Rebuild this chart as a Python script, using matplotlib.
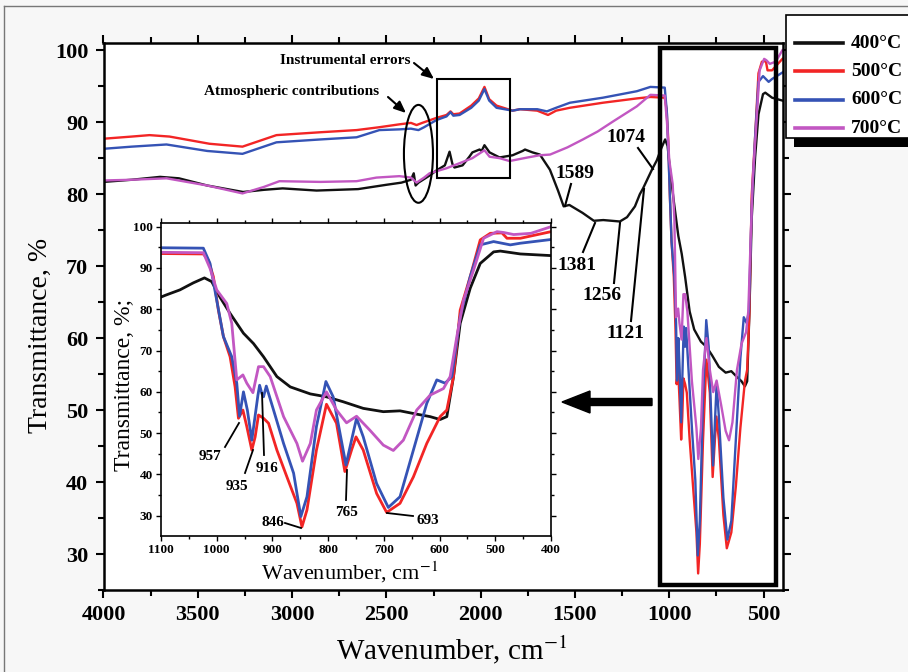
import matplotlib
matplotlib.use('Agg')
import matplotlib.pyplot as plt
from matplotlib.patches import Rectangle, Ellipse, FancyArrow
from matplotlib.lines import Line2D
from matplotlib.ticker import MultipleLocator

plt.rcParams['font.family'] = ['Liberation Serif', 'DejaVu Serif']
plt.rcParams['mathtext.fontset'] = 'stix'

# ---------------- data (wavenumber, cm-1 ; transmittance, %) ----------------
wn_400 = [4000, 3850, 3700, 3600, 3450, 3260, 3150, 3050, 2870, 2650, 2500, 2420, 2370, 2355,
          2345, 2330, 2270, 2234, 2190, 2165, 2150, 2139, 2096, 2060, 2044, 2006, 1995, 1980,
          1953, 1900, 1831, 1778, 1765, 1725, 1686, 1633, 1590, 1560, 1530, 1460, 1400, 1350,
          1262, 1224, 1182, 1156, 1139, 1092, 1066, 1042, 1022, 1009, 994, 976, 952, 934, 916,
          892, 868, 832, 803, 773, 737, 701, 671, 641, 617, 599, 587, 575, 563, 545, 527, 503,
          491, 455, 400]
t_400 = [81.7, 82.0, 82.4, 82.2, 81.2, 80.3, 80.6, 80.8, 80.5, 80.7, 81.3, 81.6, 82.0, 82.9,
         81.2, 81.6, 82.6, 83.3, 84.0, 85.9, 84.2, 83.7, 84.0, 85.2, 85.8, 86.2, 86.0, 86.8,
         85.8, 85.1, 85.4, 86.0, 86.2, 85.8, 85.5, 83.4, 80.5, 78.3, 78.5, 77.4, 76.3, 76.4,
         76.2, 76.8, 78.3, 80.0, 80.8, 83.4, 84.7, 86.4, 87.6, 86.7, 82.9, 79.0, 74.2, 71.7, 68.5,
         63.7, 61.2, 59.5, 58.8, 57.6, 56.0, 55.2, 55.4, 54.6, 54.0, 53.3, 54.0, 63.7, 76.6, 85.1,
         91.1, 93.9, 94.1, 93.4, 93.0]

wn_500 = [4000, 3850, 3756, 3650, 3438, 3263, 3083, 2850, 2658, 2537, 2431, 2370, 2340, 2310,
          2234, 2181, 2160, 2145, 2112, 2050, 2010, 1980, 1955, 1916, 1831, 1792, 1700, 1643,
          1600, 1527, 1352, 1172, 1100, 1024, 1015, 1006, 997, 988, 976, 967, 961, 953, 946, 937,
          931, 925, 916, 907, 892, 874, 856, 847, 838, 821, 803, 785, 770, 758, 750, 737, 713,
          695, 671, 647, 623, 599, 587, 575, 563, 545, 527, 509, 488, 479, 455, 400]
t_500 = [87.7, 88.0, 88.2, 88.0, 87.0, 86.6, 88.2, 88.6, 88.9, 89.3, 89.7, 89.9, 89.6, 89.9,
         90.6, 91.0, 91.5, 91.1, 91.2, 92.3, 93.3, 94.9, 93.2, 92.3, 91.6, 91.8, 91.6, 91.0,
         91.6, 92.0, 92.7, 93.3, 93.5, 93.4, 91.9, 87.9, 79.8, 73.4, 68.5, 61.2, 53.6, 55.6, 51.6,
         45.9, 49.1, 54.4, 53.6, 52.4, 45.9, 39.4, 33.0, 27.3, 31.4, 45.9, 57.0, 52.4, 40.7, 45.9,
         49.1, 45.9, 35.4, 30.8, 33.0, 39.4, 47.5, 54.0, 55.6, 63.7, 79.8, 87.9, 96.8, 98.4, 98.5,
         97.2, 97.2, 98.8]

wn_600 = [4000, 3850, 3666, 3450, 3263, 3083, 2850, 2658, 2537, 2431, 2370, 2330, 2300, 2234,
          2181, 2160, 2145, 2112, 2050, 2010, 1980, 1955, 1916, 1831, 1792, 1700, 1649, 1600,
          1527, 1352, 1172, 1100, 1024, 1012, 1000, 988, 973, 964, 959, 952, 945, 937, 926, 923,
          919, 916, 911, 898, 880, 862, 849, 838, 821, 804, 791, 768, 758, 749, 737, 713, 692,
          671, 647, 623, 605, 590, 578, 563, 545, 527, 503, 473, 455, 400]
t_600 = [86.3, 86.6, 86.9, 86.0, 85.6, 87.2, 87.6, 87.9, 88.9, 89.0, 89.1, 88.9, 89.3, 90.3,
         90.8, 91.4, 90.9, 91.0, 92.0, 93.0, 94.6, 93.0, 92.0, 91.6, 91.8, 91.8, 91.5, 92.0,
         92.7, 93.4, 94.3, 94.9, 94.8, 91.1, 82.2, 73.4, 68.5, 62.1, 54.1, 60.0, 55.6, 48.3, 59.2,
         61.6, 59.6, 58.8, 61.4, 55.6, 47.5, 40.3, 29.8, 34.6, 51.6, 62.5, 58.8, 42.3, 48.3, 53.6,
         49.1, 37.8, 32.0, 34.6, 45.9, 57.2, 62.9, 62.1, 63.7, 78.2, 87.9, 95.6, 96.4, 95.6, 96.0,
         96.9]

wn_700 = [4000, 3850, 3666, 3450, 3263, 3150, 3067, 2850, 2658, 2553, 2431, 2370, 2340, 2300,
          2271, 2181, 2112, 2044, 1980, 1953, 1900, 1847, 1750, 1688, 1632, 1540, 1458, 1380,
          1298, 1172, 1100, 1024, 1012, 1000, 982, 973, 964, 953, 946, 935, 925, 916, 904, 880,
          856, 846, 832, 821, 803, 785, 767, 749, 725, 701, 683, 665, 641, 617, 593, 581, 569,
          557, 539, 521, 497, 485, 467, 436, 400]
t_700 = [81.9, 82.0, 82.2, 81.2, 80.1, 81.0, 81.8, 81.7, 81.8, 82.3, 82.5, 82.3, 81.6, 82.3,
         82.9, 83.6, 84.3, 85.0, 86.1, 85.2, 85.0, 84.6, 85.1, 85.4, 85.5, 86.5, 87.6, 88.7,
         90.1, 92.2, 93.8, 93.7, 89.9, 84.7, 81.4, 76.6, 62.9, 64.1, 62.1, 59.8, 66.1, 66.1, 63.7,
         54.0, 47.5, 43.2, 47.5, 55.6, 60.0, 55.6, 52.5, 54.1, 50.7, 47.1, 45.8, 48.3, 55.6, 59.2,
         60.8, 63.7, 73.4, 82.2, 89.5, 97.2, 98.8, 98.6, 98.1, 98.4, 100.0]

series_labels = ['400°C', '500°C', '600°C', '700°C']
series_colors = ['#111111', '#f22525', '#3553b5', '#c257c2']
series = [(wn_400, t_400), (wn_500, t_500), (wn_600, t_600), (wn_700, t_700)]

main_xticks = [4000, 3500, 3000, 2500, 2000, 1500, 1000, 500]
main_yticks = [30, 40, 50, 60, 70, 80, 90, 100]
inset_xticks = [1100, 1000, 900, 800, 700, 600, 500, 400]
inset_yticks = [30, 40, 50, 60, 70, 80, 90, 100]

main_peaks = ['1589', '1074', '1381', '1256', '1121']
inset_peaks = ['957', '935', '916', '846', '765', '693']

# ---------------- figure ----------------
W, H = 908, 672
fig = plt.figure(figsize=(W / 100, H / 100), dpi=100, facecolor='#f7f7f7')


def fx(x):
    return x / W


def fy(y):
    return 1 - y / H


# outer thin frame
fig.add_artist(Line2D([fx(4), fx(4)], [fy(6), fy(672)], color='#777777', lw=1))
fig.add_artist(Line2D([fx(4), fx(908)], [fy(6), fy(6)], color='#777777', lw=1))

# ---------------- main axes ----------------
ax = fig.add_axes([fx(103.5), fy(590), fx(783) - fx(103.5), fy(43) - fy(590)])
ax.set_facecolor('white')
for (w, t), c in zip(series, series_colors):
    ax.plot(w, t, color=c, lw=1.7)
ax.set_xlim(4000, 397)
ax.set_ylim(25, 101)
ax.set_xticks(main_xticks)
ax.set_xticklabels([str(v) for v in main_xticks], fontweight='bold', fontsize=16)
ax.set_yticks(main_yticks)
ax.set_yticklabels([str(v) for v in main_yticks], fontweight='bold', fontsize=16)
ax.xaxis.set_minor_locator(MultipleLocator(250))
ax.yaxis.set_minor_locator(MultipleLocator(5))
ax.tick_params(which='both', direction='out', top=True, right=True, width=1.5)
ax.tick_params(which='major', length=6, pad=5)
ax.tick_params(which='minor', length=4)
for s in ax.spines.values():
    s.set_linewidth(1.8)

# boxes / ellipse annotations in the main plot
ax.add_patch(Rectangle((1049, 25.7), 434 - 1049, 100.24 - 25.7, fill=False, lw=3.2,
                       edgecolor='black', zorder=5))
ax.add_patch(Rectangle((2232, 82.3), 1845 - 2232, 96.06 - 82.3, fill=False, lw=1.5,
                       edgecolor='black', zorder=5))
ax.add_patch(Ellipse((2330, 85.6), 154, 13.6, fill=False, lw=1.5, edgecolor='black', zorder=5))

fig.text(fx(40), fy(335), 'Transmittance, %', rotation=90, ha='center', va='center', fontsize=20)
fig.text(fx(452), fy(650), r'Wavenumber, cm$^{-1}$', ha='center', va='center', fontsize=21)

# text annotations with arrows
fig.text(fx(345), fy(60), 'Instrumental errors', ha='center', va='center', fontsize=11,
         fontweight='bold')
fig.text(fx(292), fy(92), 'Atmospheric contributions', ha='center', va='center', fontsize=11,
         fontweight='bold')
arrow_kw = dict(arrowstyle='-|>,head_length=0.7,head_width=0.3', lw=1.5, color='black',
                shrinkA=0, shrinkB=0)
ax.annotate('', xy=(fx(434), fy(79)), xytext=(fx(414), fy(63)), xycoords='figure fraction',
            arrowprops=arrow_kw)
ax.annotate('', xy=(fx(406), fy(113)), xytext=(fx(388), fy(97)), xycoords='figure fraction',
            arrowprops=arrow_kw)

# peak labels (main)
main_label_pos = [(575, 173), (626, 138), (577, 265), (602, 295), (625, 334)]
main_label_lines = [((571, 184), (565, 206)), ((638, 148), (653, 169)), ((583, 252), (595, 223)),
                    ((614, 283), (620, 223)), ((631, 321), (644, 189))]
for lab, (x, y), ((x1, y1), (x2, y2)) in zip(main_peaks, main_label_pos, main_label_lines):
    fig.text(fx(x), fy(y), lab, ha='center', va='center', fontsize=14, fontweight='bold')
    fig.add_artist(Line2D([fx(x1), fx(x2)], [fy(y1), fy(y2)], color='black', lw=1.5))

# big arrow
fig.add_artist(FancyArrow(fx(652), fy(402), fx(562) - fx(652), 0, width=7 / H,
                          head_width=22 / H, head_length=28 / W, length_includes_head=True,
                          color='black', transform=fig.transFigure))

# ---------------- inset ----------------
ax2 = fig.add_axes([fx(161), fy(535.7), fx(551) - fx(161), fy(222.7) - fy(535.7)])
ax2.set_facecolor('white')
for (w, t), c in zip(series, series_colors):
    ax2.plot(w, t, color=c, lw=2.0)
ax2.set_xlim(1100, 400)
ax2.set_ylim(25.16, 100.97)
ax2.set_xticks(inset_xticks)
ax2.set_xticklabels([str(v) for v in inset_xticks], fontweight='bold', fontsize=9.5)
ax2.set_yticks(inset_yticks)
ax2.set_yticklabels([str(v) for v in inset_yticks], fontweight='bold', fontsize=9.5)
ax2.xaxis.set_minor_locator(MultipleLocator(50))
ax2.yaxis.set_minor_locator(MultipleLocator(5))
ax2.tick_params(which='both', direction='out', top=True, right=True, width=1.0)
ax2.tick_params(which='major', length=3.5, pad=2.5)
ax2.tick_params(which='minor', length=2)
for s in ax2.spines.values():
    s.set_linewidth(1.2)
fig.text(fx(125), fy(385), 'Transmittance, %;', rotation=90, ha='center', va='center', fontsize=17)
fig.text(fx(350), fy(572), r'Wavenumber, cm$^{-1}$', ha='center', va='center', fontsize=16)

inset_label_pos = [(210, 457), (237, 487), (267, 468), (273, 523), (347, 512), (428, 521)]
inset_label_lines = [((225, 447), (239, 423)), ((245, 473), (253, 450)), ((264, 455), (262, 393)),
                     ((285, 523), (301, 528)), ((346, 500), (347, 470)), ((413, 516), (387, 513))]
for lab, (x, y), ((x1, y1), (x2, y2)) in zip(inset_peaks, inset_label_pos, inset_label_lines):
    fig.text(fx(x), fy(y), lab, ha='center', va='center', fontsize=11, fontweight='bold')
    fig.add_artist(Line2D([fx(x1), fx(x2)], [fy(y1), fy(y2)], color='black', lw=1.3))

# ---------------- legend (box with dark shadow) ----------------
fig.add_artist(Rectangle((fx(794), fy(147)), fx(930) - fx(794), fy(24) - fy(147),
                         facecolor='black', edgecolor='none', transform=fig.transFigure))
fig.add_artist(Rectangle((fx(786), fy(138)), fx(930) - fx(786), fy(15) - fy(138),
                         facecolor='white', edgecolor='black', lw=1.2, transform=fig.transFigure))
for i, (lab, c) in enumerate(zip(series_labels, series_colors)):
    y = 43 + i * 28.4
    fig.add_artist(Line2D([fx(795), fx(843)], [fy(y), fy(y)], color=c, lw=2.6))
    fig.text(fx(851), fy(y), lab, ha='left', va='center', fontsize=14, fontweight='bold')

fig.savefig('out.png', dpi=100, facecolor=fig.get_facecolor())
